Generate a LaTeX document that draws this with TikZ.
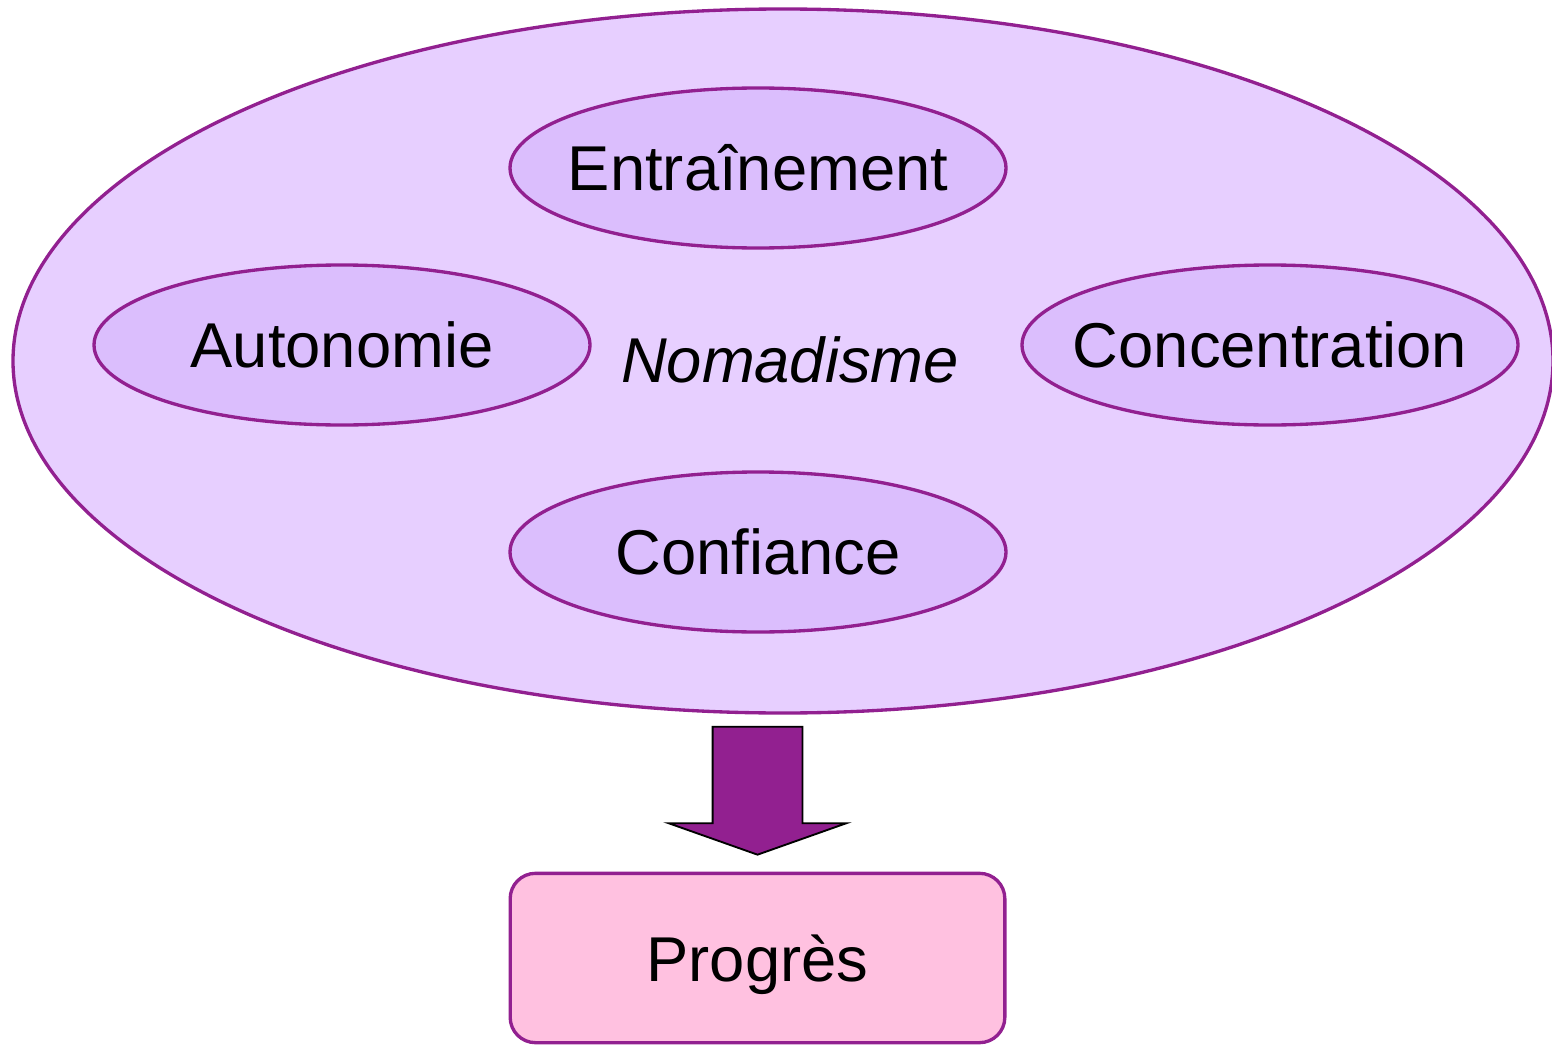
\documentclass[tikz,border=0pt]{standalone}
\usepackage{fontspec}
\setmainfont{Liberation Sans}
\usepackage{xcolor}
\usetikzlibrary{shapes.geometric, shapes.arrows, positioning, calc}

\definecolor{lineviolet}{HTML}{922090}
\definecolor{bigfill}{HTML}{E7CFFF}
\definecolor{smallfill}{HTML}{DBBEFD}
\definecolor{boxfill}{HTML}{FFC1E0}

\tikzset{
  bigoval/.style={ellipse, draw=lineviolet, fill=bigfill, line width=2.5pt,
    minimum width=1155pt, minimum height=528pt, inner sep=0pt},
  smalloval/.style={ellipse, draw=lineviolet, fill=smallfill, line width=2.5pt,
    minimum width=372pt, minimum height=120pt, inner sep=0pt},
  resultbox/.style={rectangle, rounded corners=19pt, draw=lineviolet, fill=boxfill,
    line width=2.5pt, minimum width=371pt, minimum height=127pt, inner sep=0pt,
    text depth=0pt},
  bigarrow/.style={single arrow, draw=black, fill=lineviolet, line width=1.4pt,
    inner xsep=0pt, inner ysep=33pt, minimum height=96pt,
    single arrow head extend=33pt, single arrow tip angle=141, rotate=-90}
}

\begin{document}
\begin{tikzpicture}[x=0.75pt, y=-0.75pt, font=\fontsize{47.5}{57}\selectfont]

  \useasboundingbox (0,0) rectangle (1552,1045);

  \node[bigoval] (nomad) at (783,361) {};
  \node[font=\fontsize{47.5}{57}\selectfont\itshape] (nomadtxt) at (790,360) {Nomadisme};

  \node[smalloval, label={center:Entraînement}] (entrain) at (758,168) {};
  \node[smalloval, label={center:Autonomie}] (autono) at (342,345) {};
  \node[smalloval, label={center:Concentration}] (concent) at (1270,345) {};
  \node[smalloval, label={center:Confiance}] (confi) at (758,552) {};

  \node[resultbox] (progres) at (757.5,958) {Progrès};

  \node[bigarrow, anchor=tip] (fleche) at ([yshift=12pt]progres.north) {};

\end{tikzpicture}
\end{document}
